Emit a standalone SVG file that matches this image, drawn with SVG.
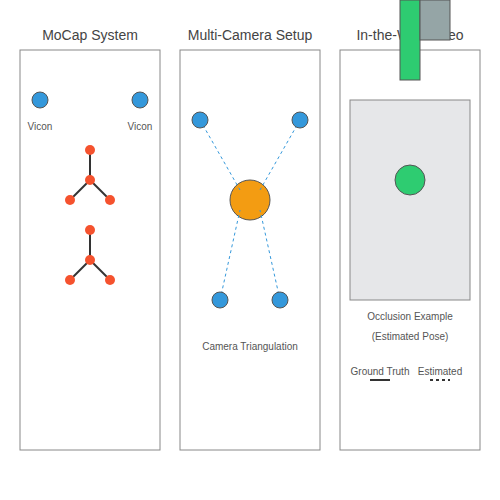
<svg xmlns="http://www.w3.org/2000/svg" width="500" height="500" viewBox="0 0 500 500">
<style>
.panel{fill:#fff;stroke:#888;stroke-width:1}
.title{font-family:"Liberation Sans",Arial,sans-serif;font-size:14px;fill:#444;text-anchor:middle}
.lbl{font-family:"Liberation Sans",Arial,sans-serif;font-size:10px;fill:#555;text-anchor:middle}
.cam{fill:#3498db;stroke:#555;stroke-width:1}
.joint{fill:#f5522e}
.bone{stroke:#333;stroke-width:2}
.ray{stroke:#3498db;stroke-width:1;stroke-dasharray:3,3}
</style>
<rect width="500" height="500" fill="#fff"/>
<g id="panel-mocap">
<rect class="panel" x="20" y="50" width="140" height="400"/>
<text class="title" x="90" y="40">MoCap System</text>
</g>
<g id="panel-multicam">
<rect class="panel" x="180" y="50" width="140" height="400"/>
<text class="title" x="250" y="40">Multi-Camera Setup</text>
</g>
<g id="panel-wild">
<rect class="panel" x="340" y="50" width="140" height="400"/>
<text class="title" x="410" y="40">In-the-Wild Video</text>
</g>
<g id="vicon-left"><circle class="cam" cx="40" cy="100" r="8"/><text class="lbl" x="40" y="130">Vicon</text></g>
<g id="vicon-right"><circle class="cam" cx="140" cy="100" r="8"/><text class="lbl" x="140" y="130">Vicon</text></g>
<g id="skeleton-1">
<line class="bone" x1="90" y1="150" x2="90" y2="180"/>
<line class="bone" x1="90" y1="180" x2="70" y2="200"/>
<line class="bone" x1="90" y1="180" x2="110" y2="200"/>
<circle class="joint" cx="90" cy="150" r="5"/><circle class="joint" cx="90" cy="180" r="5"/>
<circle class="joint" cx="70" cy="200" r="5"/><circle class="joint" cx="110" cy="200" r="5"/>
</g>
<g id="skeleton-2">
<line class="bone" x1="90" y1="230" x2="90" y2="260"/>
<line class="bone" x1="90" y1="260" x2="70" y2="280"/>
<line class="bone" x1="90" y1="260" x2="110" y2="280"/>
<circle class="joint" cx="90" cy="230" r="5"/><circle class="joint" cx="90" cy="260" r="5"/>
<circle class="joint" cx="70" cy="280" r="5"/><circle class="joint" cx="110" cy="280" r="5"/>
</g>
<g id="subject"><circle cx="250" cy="200" r="20" fill="#f39c12" stroke="#555" stroke-width="1"/></g>
<g id="connectors">
<line class="ray" x1="200" y1="120" x2="240" y2="190"/>
<line class="ray" x1="300" y1="120" x2="260" y2="190"/>
<line class="ray" x1="220" y1="300" x2="240" y2="210"/>
<line class="ray" x1="280" y1="300" x2="260" y2="210"/>
</g>
<g id="cam-1"><circle class="cam" cx="200" cy="120" r="8"/></g>
<g id="cam-2"><circle class="cam" cx="300" cy="120" r="8"/></g>
<g id="cam-3"><circle class="cam" cx="220" cy="300" r="8"/></g>
<g id="cam-4"><circle class="cam" cx="280" cy="300" r="8"/></g>
<text class="lbl" x="250" y="350">Camera Triangulation</text>
<g id="occluder">
<rect x="400" y="0" width="20" height="80" fill="#2ecc71" stroke="#555" stroke-width="1"/>
<rect x="420" y="0" width="30" height="40" fill="#95a5a6" stroke="#555" stroke-width="1"/>
</g>
<g id="frame">
<rect x="350" y="100" width="120" height="200" fill="#e6e7e9" stroke="#888" stroke-width="1"/>
<circle cx="410" cy="180" r="15" fill="#2ecc71" stroke="#555" stroke-width="1"/>
</g>
<text class="lbl" x="410" y="320">Occlusion Example</text>
<text class="lbl" x="410" y="340">(Estimated Pose)</text>
<g id="legend">
<text class="lbl" x="380" y="375">Ground Truth</text>
<line x1="370" y1="380" x2="390" y2="380" stroke="#333" stroke-width="2"/>
<text class="lbl" x="440" y="375">Estimated</text>
<line x1="430" y1="380" x2="450" y2="380" stroke="#333" stroke-width="2" stroke-dasharray="3,3"/>
</g>
</svg>
